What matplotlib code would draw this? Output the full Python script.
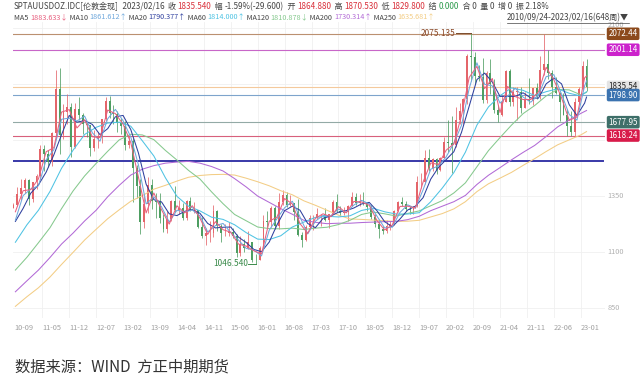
import matplotlib
matplotlib.use('Agg')
import matplotlib.pyplot as plt
import matplotlib.transforms as mtransforms
from matplotlib.lines import Line2D
import numpy as np

plt.rcParams['font.family'] = ['Noto Sans CJK SC', 'DejaVu Sans']

# monthly bars, Sep 2010 .. Feb 2023 (month index 0 = 2010-09)
first_open = 1296
closes = [1307, 1357, 1386, 1421,
          1333, 1410, 1439, 1556, 1536, 1500, 1628, 1825, 1620, 1722, 1746, 1565,
          1738, 1710, 1668, 1664, 1561, 1604, 1614, 1692, 1772, 1719, 1713, 1675,
          1663, 1578, 1596, 1472, 1392, 1234, 1312, 1396, 1327, 1323, 1251, 1202,
          1244, 1326, 1284, 1296, 1250, 1327, 1282, 1287, 1210, 1171, 1182, 1184,
          1283, 1213, 1183, 1183, 1190, 1172, 1095, 1135, 1115, 1142, 1065, 1061,
          1118, 1238, 1233, 1293, 1215, 1322, 1351, 1309, 1316, 1277, 1173, 1152,
          1211, 1249, 1249, 1268, 1269, 1242, 1269, 1322, 1280, 1271, 1275, 1303,
          1345, 1318, 1325, 1315, 1299, 1253, 1224, 1201, 1192, 1215, 1222, 1282,
          1321, 1313, 1292, 1284, 1305, 1409, 1413, 1520, 1472, 1513, 1464, 1517,
          1589, 1585, 1577, 1686, 1730, 1781, 1975, 1967, 1886, 1879, 1776, 1898,
          1847, 1734, 1708, 1769, 1906, 1770, 1814, 1814, 1743, 1783, 1774, 1829,
          1796, 1909, 1937, 1897, 1837, 1807, 1766, 1711, 1660, 1633, 1769, 1824,
          1928, 1836]
highs = [1315, 1388, 1424, 1431,
         1424, 1411, 1447, 1577, 1577, 1553, 1632, 1913, 1921, 1760, 1804, 1764,
         1764, 1791, 1718, 1677, 1665, 1641, 1632, 1692, 1790, 1796, 1755, 1726,
         1695, 1682, 1617, 1606, 1488, 1424, 1348, 1434, 1424, 1361, 1362, 1267,
         1280, 1332, 1392, 1331, 1315, 1332, 1345, 1322, 1287, 1255, 1207, 1238,
         1307, 1285, 1224, 1224, 1232, 1205, 1178, 1170, 1157, 1191, 1145, 1088,
         1127, 1263, 1283, 1303, 1303, 1362, 1375, 1367, 1353, 1318, 1337, 1187,
         1220, 1264, 1263, 1296, 1270, 1296, 1270, 1331, 1358, 1306, 1299, 1308,
         1366, 1361, 1356, 1366, 1318, 1309, 1266, 1235, 1214, 1243, 1237, 1284,
         1326, 1346, 1324, 1303, 1306, 1439, 1452, 1555, 1557, 1517, 1516, 1524,
         1611, 1689, 1704, 1747, 1765, 1785, 1984, 2075, 1992, 1933, 1966, 1907,
         1959, 1872, 1755, 1798, 1913, 1916, 1833, 1834, 1834, 1814, 1877, 1831,
         1853, 1974, 2070, 1998, 1910, 1880, 1814, 1808, 1735, 1730, 1786, 1833,
         1949, 1960]
lows = [1294, 1305, 1330, 1360,
        1309, 1323, 1381, 1418, 1462, 1478, 1481, 1601, 1535, 1603, 1670, 1523,
        1564, 1688, 1627, 1613, 1527, 1548, 1564, 1586, 1685, 1696, 1672, 1635,
        1626, 1555, 1562, 1321, 1338, 1180, 1207, 1271, 1292, 1251, 1227, 1187,
        1182, 1238, 1277, 1268, 1240, 1240, 1281, 1273, 1206, 1161, 1131, 1142,
        1167, 1191, 1142, 1170, 1170, 1162, 1077, 1080, 1098, 1112, 1053, 1046,
        1061, 1110, 1208, 1208, 1199, 1200, 1310, 1301, 1305, 1241, 1171, 1123,
        1146, 1200, 1195, 1244, 1214, 1236, 1205, 1267, 1277, 1261, 1264, 1237,
        1303, 1307, 1303, 1310, 1282, 1247, 1211, 1160, 1180, 1183, 1196, 1221,
        1275, 1303, 1281, 1266, 1266, 1301, 1382, 1400, 1459, 1459, 1445, 1459,
        1517, 1547, 1451, 1567, 1670, 1671, 1757, 1863, 1849, 1860, 1764, 1765,
        1802, 1717, 1677, 1705, 1766, 1750, 1750, 1688, 1721, 1740, 1758, 1753,
        1780, 1781, 1890, 1872, 1787, 1805, 1681, 1709, 1615, 1617, 1616, 1765,
        1823, 1819]

# moving averages read every 2 months (short) and every quarter (long)
ma5 = [1278, 1372, 1377, 1425, 1546, 1564, 1723, 1734, 1652, 1689,
       1613, 1609, 1732, 1716, 1669, 1587, 1432, 1273, 1362, 1287,
       1223, 1305, 1273, 1305, 1249, 1177, 1234, 1198, 1187, 1134,
       1125, 1104, 1090, 1236, 1254, 1337, 1313, 1225, 1182, 1249,
       1269, 1256, 1301, 1273, 1324, 1322, 1307, 1239, 1197, 1219,
       1302, 1303, 1295, 1411, 1496, 1489, 1553, 1581, 1708, 1878,
       1927, 1828, 1873, 1721, 1838, 1792, 1779, 1779, 1813, 1923,
       1867, 1787, 1686, 1701, 1876, 1884]
ma10 = [1241, 1350, 1380, 1394, 1510, 1555, 1691, 1696, 1683, 1705,
        1631, 1593, 1693, 1735, 1684, 1612, 1487, 1313, 1345, 1300,
        1232, 1285, 1277, 1286, 1260, 1188, 1216, 1226, 1185, 1152,
        1115, 1107, 1081, 1196, 1247, 1296, 1325, 1255, 1179, 1236,
        1262, 1260, 1290, 1275, 1308, 1329, 1313, 1259, 1206, 1210,
        1275, 1309, 1294, 1376, 1468, 1483, 1523, 1584, 1664, 1829,
        1943, 1847, 1840, 1763, 1794, 1830, 1790, 1767, 1800, 1881,
        1890, 1803, 1712, 1687, 1840, 1862]
ma20 = [1235, 1293, 1361, 1398, 1455, 1532, 1622, 1708, 1678, 1685,
        1668, 1622, 1649, 1702, 1708, 1645, 1540, 1401, 1332, 1322,
        1269, 1261, 1280, 1288, 1271, 1226, 1206, 1209, 1210, 1165,
        1141, 1110, 1100, 1143, 1219, 1283, 1303, 1285, 1226, 1207,
        1249, 1259, 1276, 1283, 1295, 1313, 1320, 1283, 1234, 1211,
        1246, 1286, 1303, 1341, 1424, 1476, 1511, 1546, 1633, 1750,
        1868, 1897, 1857, 1793, 1793, 1793, 1809, 1786, 1785, 1849,
        1875, 1849, 1756, 1708, 1763, 1790]
ma60 = [1142, 1220, 1285, 1369, 1472, 1553, 1623, 1655, 1674, 1678,
        1660, 1595, 1527, 1430, 1347, 1303, 1282, 1254, 1244, 1220,
        1185, 1156, 1154, 1171, 1210, 1232, 1253, 1258, 1255, 1260,
        1284, 1294, 1278, 1268, 1268, 1274, 1323, 1384, 1453, 1544,
        1665, 1746, 1796, 1831, 1820, 1797, 1814, 1827, 1807, 1795, 1814]
ma120 = [1018, 1075, 1140, 1207, 1292, 1371, 1438, 1494, 1548, 1599,
         1624, 1621, 1600, 1552, 1509, 1463, 1424, 1367, 1314, 1266,
         1238, 1210, 1203, 1202, 1205, 1199, 1205, 1209, 1221, 1240,
         1266, 1277, 1269, 1259, 1271, 1282, 1305, 1328, 1362, 1407,
         1479, 1551, 1609, 1665, 1716, 1752, 1795, 1824, 1822, 1800, 1811]
ma200 = [921, 970, 1018, 1074, 1134, 1183, 1237, 1285, 1345, 1396,
         1442, 1468, 1484, 1495, 1500, 1503, 1495, 1480, 1460, 1426,
         1389, 1348, 1320, 1292, 1267, 1240, 1231, 1225, 1227, 1227,
         1230, 1232, 1234, 1235, 1243, 1258, 1283, 1303, 1323, 1351,
         1400, 1441, 1475, 1510, 1543, 1574, 1614, 1657, 1688, 1717, 1730]
ma250 = [856, 899, 939, 987, 1043, 1097, 1152, 1200, 1247, 1287,
         1325, 1350, 1379, 1396, 1415, 1432, 1440, 1444, 1445, 1442,
         1428, 1412, 1394, 1372, 1354, 1327, 1307, 1285, 1263, 1246,
         1244, 1241, 1238, 1235, 1236, 1240, 1255, 1270, 1291, 1323,
         1368, 1403, 1428, 1454, 1485, 1515, 1547, 1577, 1599, 1621, 1636]

levels = [2072.44, 2001.14, 1835.54, 1798.90, 1677.95, 1618.24]
level_line_colors = ['#bb9070', '#c866c8', '#f4c99c', '#7ea4cc', '#93aaa6', '#d8607c']
level_box_colors = ['#8c4a1c', '#cc22cc', '#e4e4e4', '#3b73b0', '#3e6f69', '#d81b4a']
level_text_colors = ['white', 'white', '#222222', 'white', 'white', 'white']
support_line = 1506

tick_labels = ['10-09', '11-05', '11-12', '12-07', '13-02', '13-09', '14-04', '14-11',
               '15-06', '16-01', '16-08', '17-03', '17-10', '18-05', '18-12', '19-07',
               '20-02', '20-09', '21-04', '21-11', '22-06', '23-01']
price_grid = [850, 1100, 1350, 1600, 1850, 2100]
price_labels = [850, 1100, 1350, 2100]

UP, DOWN = '#e4656a', '#4e9e62'
DARK = '#444444'
MA_COLORS = ['#e8607f', '#6fa8dc', '#2e3f9e', '#4fc3e3', '#86c98e', '#b26ad6', '#f3cd85']

fig = plt.figure(figsize=(6.4, 3.84), dpi=100)
W, H = 640, 384
ax = fig.add_axes([13 / W, 1 - 318 / H, 592 / W, 296 / H])
ax.set_xlim(0.38, 154.3)
ax.set_ylim(804, 2125)
for s in ax.spines.values():
    s.set_visible(False)

# grid
tick_pos = []
for lab in tick_labels:
    yy, mm = lab.split('-')
    idx = (int(yy) - 10) * 12 + int(mm) - 9
    tick_pos.append(max(idx, 0.77))
ax.set_xticks(tick_pos)
ax.set_xticklabels(tick_labels, fontsize=5.3, color='#a0a0a0', ha='left')
ax.tick_params(axis='x', length=0, pad=4)
ax.set_yticks([])
for p in tick_pos[1:]:
    ax.axvline(p, color='#f0f0f0', lw=0.6, zorder=0)
for v in price_grid:
    ax.axhline(v, color='#f0f0f0', lw=0.6, zorder=0)

ytrans = mtransforms.blended_transform_factory(ax.transAxes, ax.transData)
for v in price_labels:
    yv = v + 12 if v == 2100 else v
    ax.text(1.004, yv, str(v), transform=ytrans, fontsize=5.3, color='#b0b0b0',
            ha='left', va='center', clip_on=False, zorder=1)

# level lines
for v, lc in zip(levels, level_line_colors):
    ax.axhline(v, color=lc, lw=0.8, zorder=1)
ax.plot([0.38, 153.8], [support_line, support_line], color='#3838a8', lw=1.4, zorder=1)

# candles
n = len(closes)
opens = [first_open] + closes[:-1]
xc = np.arange(n) + 0.5
col = [UP if c >= o else DOWN for o, c in zip(opens, closes)]
ax.vlines(xc, lows, highs, colors=col, lw=0.55, zorder=3)
bottoms = np.minimum(opens, closes)
heights = np.maximum(np.abs(np.array(closes) - np.array(opens)), 2)
ax.bar(xc, heights, bottom=bottoms, width=0.5, color=col, lw=0, zorder=3)

# moving averages
short_x = [m + 1 for m in range(0, 149, 2)] + [149.5]
long_x = [m + 1 for m in range(0, 148, 3)] + [149.5]
for series, xs, c in [(ma250, long_x, MA_COLORS[6]), (ma200, long_x, MA_COLORS[5]),
                      (ma120, long_x, MA_COLORS[4]), (ma60, long_x, MA_COLORS[3]),
                      (ma20, short_x, MA_COLORS[2]), (ma10, short_x, MA_COLORS[1]),
                      (ma5, short_x, MA_COLORS[0])]:
    ax.plot(xs, series, color=c, lw=0.75, zorder=4)

# level tags on the right
for v, bc, tc in zip(levels, level_box_colors, level_text_colors):
    ax.text(1.006, v, f'{v:.2f}', transform=ytrans, fontsize=5.8, color=tc,
            ha='left', va='center', clip_on=False, zorder=6,
            bbox=dict(boxstyle='round,pad=0.22', fc=bc, ec='none'))

# extreme markers
hi_i = int(np.argmax(highs))
lo_i = int(np.argmin(lows))
ax.plot([xc[hi_i] - 4.0, xc[hi_i]], [highs[hi_i]] * 2, color='#7a4a2a', lw=0.7, zorder=5)
ax.text(xc[hi_i] - 4.1, highs[hi_i], '2075.135', fontsize=6, color='#8b4a2a',
        ha='right', va='center', zorder=5)
ax.plot([xc[lo_i] - 2.0, xc[lo_i]], [lows[lo_i]] * 2, color='#3a8a4a', lw=0.7, zorder=5)
ax.text(xc[lo_i] - 2.1, lows[lo_i], '1046.540', fontsize=6, color='#3a8a4a',
        ha='right', va='center', zorder=5)

# header lines
renderer = fig.canvas.get_renderer()


def draw_segments(segments, x0, y, size):
    x = x0
    for s, c in segments:
        t = fig.text(x / W, 1 - y / H, s, color=c, fontsize=size, ha='left', va='center')
        x += t.get_window_extent(renderer=renderer).width
    return x


RED, GRN = '#d9303a', '#2a9a4a'
draw_segments([('SPTAUUSDOZ.IDC[伦敦金现]', DARK), ('  2023/02/16  ', DARK),
               ('收 ', DARK), ('1835.540', RED), ('  幅 ', DARK), ('-1.59%(-29.600)', DARK),
               ('  开 ', DARK), ('1864.880', RED), ('  高 ', DARK), ('1870.530', RED),
               ('  低 ', DARK), ('1829.800', RED), ('  结 ', DARK), ('0.000', GRN),
               ('  合 0  量 0  增 0  振 2.18%', DARK)], 14, 6.5, 5.8)
draw_segments([('MA5 ', DARK), ('1883.633↓', MA_COLORS[0]), (' MA10 ', DARK),
               ('1861.612↑', MA_COLORS[1]), (' MA20 ', DARK), ('1790.377↑', MA_COLORS[2]),
               (' MA60 ', DARK), ('1814.000↑', MA_COLORS[3]), (' MA120 ', DARK),
               ('1810.878↓', MA_COLORS[4]), (' MA200 ', DARK), ('1730.314↑', MA_COLORS[5]),
               (' MA250 ', DARK), ('1635.681↑', MA_COLORS[6])], 14, 17.5, 5.2)

rng = fig.text(629 / W, 1 - 17.5 / H, '2010/09/24-2023/02/16(648周)▼', fontsize=5.8,
               color=DARK, ha='right', va='center')
bb = rng.get_window_extent(renderer=renderer)
fig.add_artist(Line2D([bb.x0 / W, bb.x1 / W], [(bb.y0 - 0.5) / H] * 2,
                      color=DARK, lw=0.5, transform=fig.transFigure))

# footer
fig.text(15 / W, 1 - 367 / H, '数据来源：WIND  方正中期期货', fontsize=11,
         color='#333333', ha='left', va='center')

fig.savefig('out.png', dpi=100)
